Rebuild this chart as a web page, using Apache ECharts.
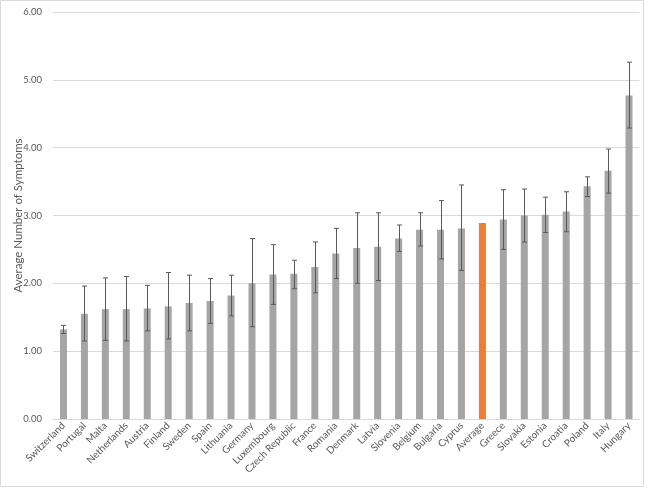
<!DOCTYPE html>
<html><head><meta charset="utf-8">
<script src="https://cdn.jsdelivr.net/npm/echarts@6/dist/echarts.min.js"></script>
<style>html,body{margin:0;padding:0;background:#fff}#c{width:650px;height:489px}</style>
</head><body><div id="c"></div>
<script>
const categories = ["Switzerland","Portugal","Malta","Netherlands","Austria","Finland","Sweden","Spain","Lithuania","Germany","Luxembourg","Czech Republic","France","Romania","Denmark","Latvia","Slovenia","Belgium","Bulgaria","Cyprus","Average","Greece","Slovakia","Estonia","Croatia","Poland","Italy","Hungary"];
const values = [1.32,1.55,1.62,1.62,1.63,1.66,1.71,1.74,1.82,2.00,2.13,2.14,2.24,2.44,2.52,2.54,2.66,2.79,2.79,2.81,2.89,2.94,3.00,3.01,3.06,3.43,3.66,4.77];
const errLow = [1.26,1.15,1.16,1.15,1.30,1.18,1.30,1.41,1.52,1.36,1.69,1.92,1.86,2.07,2.00,2.04,2.47,2.55,2.36,2.19,null,2.50,2.61,2.75,2.76,3.28,3.33,4.29];
const errHigh = [1.38,1.96,2.08,2.10,1.97,2.16,2.12,2.07,2.12,2.66,2.57,2.34,2.61,2.81,3.04,3.04,2.86,3.04,3.22,3.45,null,3.38,3.39,3.27,3.35,3.57,3.98,5.26];
const yTicks = [0,1,2,3,4,5,6];
const highlight = "Average";

const font = "Lato, 'Open Sans', sans-serif";
const chart = echarts.init(document.getElementById('c'));
const errData = categories.map((c,i)=> errLow[i]==null ? null : [i, errLow[i], errHigh[i]]).filter(d=>d);
chart.setOption({
  animation:false,
  graphic:[{type:'rect',shape:{x:0.5,y:0.5,width:643,height:486},style:{fill:null,stroke:'#d9d9d9',lineWidth:1},silent:true}],
  grid:{left:53,right:10.5,top:12,bottom:70,containLabel:false},
  xAxis:{type:'category',data:categories,
    axisLine:{lineStyle:{color:'#d9d9d9'}},axisTick:{show:false},
    axisLabel:{rotate:45,interval:0,fontSize:10,color:'#595959',fontFamily:font,margin:5}},
  yAxis:{type:'value',min:yTicks[0],max:yTicks[yTicks.length-1],interval:1,
    name:'Average Number of Symptoms',nameLocation:'middle',nameGap:29,nameMoveOverlap:false,
    nameTextStyle:{fontSize:11.5,color:'#595959',fontFamily:font},
    axisLabel:{formatter:v=>v.toFixed(2),fontSize:9.5,color:'#595959',fontFamily:font,margin:11},
    splitLine:{lineStyle:{color:'#d9d9d9'}},axisLine:{show:false},axisTick:{show:false}},
  series:[
    {type:'bar',barWidth:7,data:values.map((v,i)=>({value:v,itemStyle:{color:categories[i]===highlight?'#ed7d31':'#a5a5a5'}}))},
    {type:'custom',data:errData,z:10,
      renderItem:(params,api)=>{
        const x=api.value(0), lo=api.coord([x,api.value(1)]), hi=api.coord([x,api.value(2)]);
        const cx=Math.round(lo[0])+0.5, w=2.5;
        const st={stroke:'#595959',lineWidth:1};
        return {type:'group',children:[
          {type:'line',shape:{x1:cx,y1:hi[1],x2:cx,y2:lo[1]},style:st},
          {type:'line',shape:{x1:cx-w,y1:hi[1],x2:cx+w,y2:hi[1]},style:st},
          {type:'line',shape:{x1:cx-w,y1:lo[1],x2:cx+w,y2:lo[1]},style:st}
        ]};
      }}
  ]
});
</script></body></html>
